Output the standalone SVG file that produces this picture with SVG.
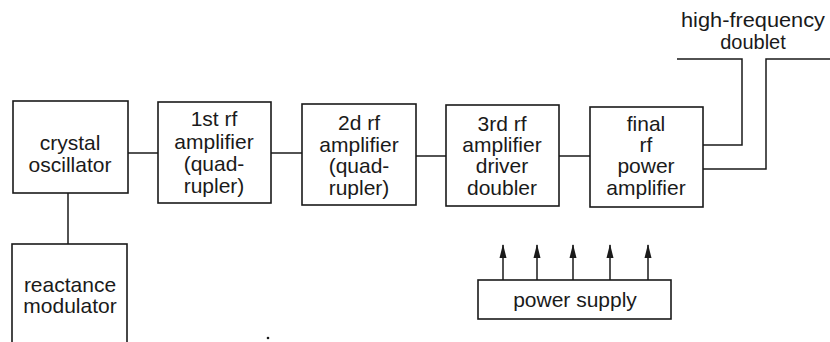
<svg xmlns="http://www.w3.org/2000/svg" width="830" height="342" viewBox="0 0 830 342">
<style>
.box{fill:#fff;stroke:#1a1a1a;stroke-width:1.6}
.ln{fill:none;stroke:#1a1a1a;stroke-width:1.5}
text{font-family:"Liberation Sans","DejaVu Sans",sans-serif;font-size:21px;fill:#1a1a1a;text-anchor:middle}
.lbl{font-size:20px}
</style>
<defs>
<marker id="ah" viewBox="0 0 14 8" refX="13" refY="4" markerWidth="14" markerHeight="8" markerUnits="userSpaceOnUse" orient="auto">
<path d="M14 4 L0 0.5 L0 7.5 Z" fill="#1a1a1a"/>
</marker>
</defs>
<rect width="830" height="342" fill="#fff"/>
<g id="connectors">
<line class="ln" x1="128" y1="153" x2="158" y2="153"/>
<line class="ln" x1="271" y1="153" x2="302" y2="153"/>
<line class="ln" x1="416" y1="156" x2="446" y2="156"/>
<line class="ln" x1="559" y1="156" x2="590" y2="156"/>
<line class="ln" x1="68" y1="193" x2="68" y2="244"/>
<polyline class="ln" points="703,145 742,145 742,59 677,59"/>
<polyline class="ln" points="703,169 766,169 766,59 830,59"/>
<line class="ln" x1="503" y1="280" x2="503" y2="245" marker-end="url(#ah)"/>
<line class="ln" x1="537" y1="280" x2="537" y2="245" marker-end="url(#ah)"/>
<line class="ln" x1="573" y1="280" x2="573" y2="245" marker-end="url(#ah)"/>
<line class="ln" x1="610" y1="280" x2="610" y2="245" marker-end="url(#ah)"/>
<line class="ln" x1="648" y1="280" x2="648" y2="245" marker-end="url(#ah)"/>
</g>
<g id="crystal">
<rect class="box" x="13" y="101" width="115" height="92"/>
<text x="70" y="150">crystal</text>
<text x="70" y="172">oscillator</text>
</g>
<g id="rf1">
<rect class="box" x="158" y="102" width="113" height="101"/>
<text x="214" y="126">1st rf</text>
<text x="214" y="149">amplifier</text>
<text x="214" y="171">(quad-</text>
<text x="214" y="193">rupler)</text>
</g>
<g id="rf2">
<rect class="box" x="302" y="104" width="114" height="101"/>
<text x="359" y="130">2d rf</text>
<text x="359" y="152">amplifier</text>
<text x="359" y="173">(quad-</text>
<text x="359" y="195">rupler)</text>
</g>
<g id="rf3">
<rect class="box" x="446" y="105" width="113" height="101"/>
<text x="502" y="131">3rd rf</text>
<text x="502" y="152">amplifier</text>
<text x="502" y="173">driver</text>
<text x="502" y="195">doubler</text>
</g>
<g id="final">
<rect class="box" x="590" y="107" width="113" height="100"/>
<text x="646" y="131">final</text>
<text x="646" y="152">rf</text>
<text x="646" y="173">power</text>
<text x="646" y="195">amplifier</text>
</g>
<g id="reactance">
<rect class="box" x="12" y="244" width="115" height="110"/>
<text x="70" y="292">reactance</text>
<text x="70" y="313">modulator</text>
</g>
<g id="power">
<rect class="box" x="478" y="280" width="193" height="39"/>
<text x="575" y="307">power supply</text>
</g>
<g id="doublet">
<text class="lbl" x="753" y="27" textLength="144" lengthAdjust="spacingAndGlyphs">high-frequency</text>
<text class="lbl" x="753" y="49">doublet</text>
</g>
<circle cx="268" cy="338" r="1.3" fill="#1a1a1a"/>
</svg>
